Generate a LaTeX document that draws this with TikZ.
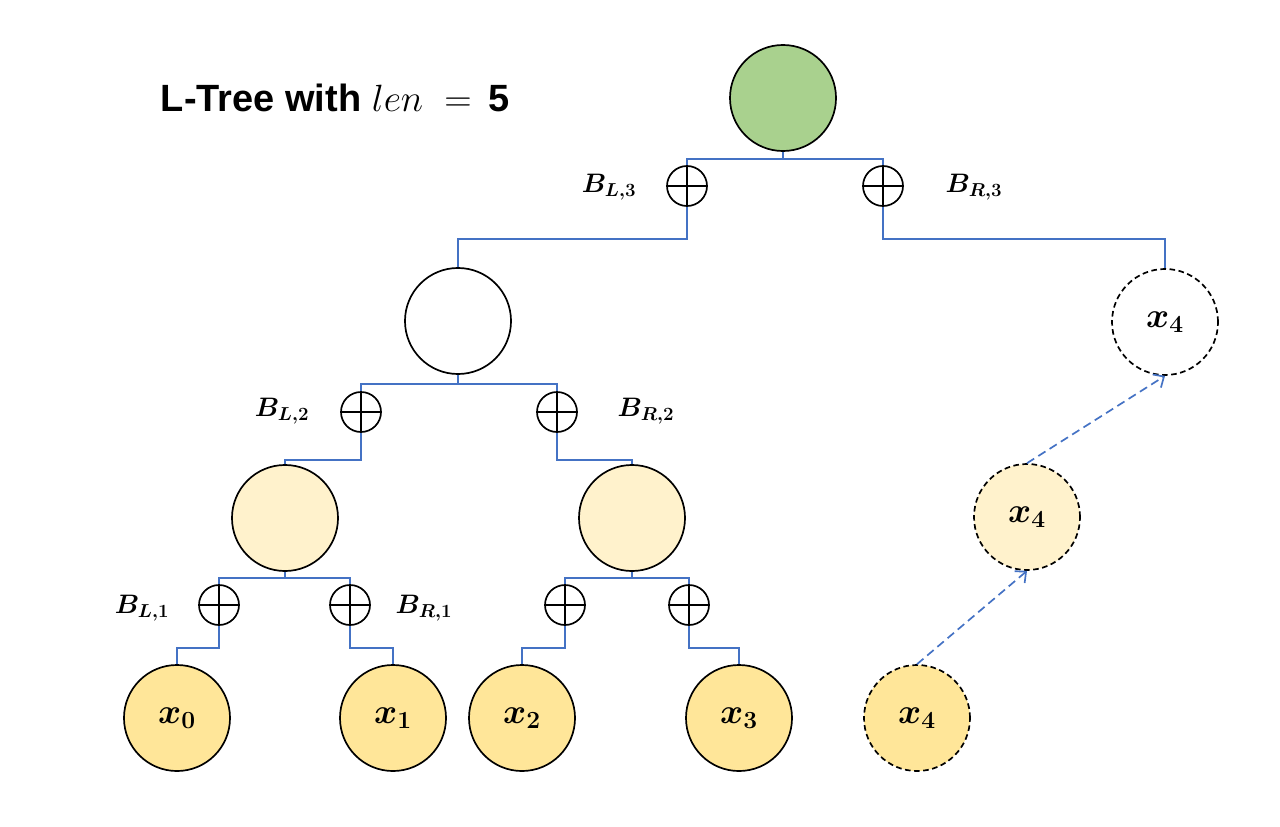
\documentclass[tikz,border=0pt]{standalone}
\usepackage{fix-cm}
\usepackage{amsmath}
\usepackage{fontspec}
\setsansfont{Liberation Sans}
\usetikzlibrary{arrows.meta,calc}
\definecolor{cWire}{HTML}{4472C4}
\definecolor{cRoot}{HTML}{A9D18E}
\definecolor{cPale}{HTML}{FFF2CC}
\definecolor{cLeaf}{HTML}{FFE699}

\begin{document}
\begin{tikzpicture}[x=0.025cm,y=-0.025cm,
      tnode/.style={circle,draw,line width=1.2pt,minimum size=2.65cm,inner sep=0pt,
        font=\boldmath\fontsize{25}{29}\selectfont},
      gnode/.style={tnode,fill=cRoot},
      enode/.style={tnode,fill=white},
      pnode/.style={tnode,fill=cPale},
      lnode/.style={tnode,fill=cLeaf},
      ghost/.style={dash pattern=on 4pt off 2.5pt},
      xorc/.style={circle,draw,line width=1.2pt,minimum size=1cm,inner sep=0pt,fill=white,
        path picture={\draw[line width=1.2pt] (path picture bounding box.north) -- (path picture bounding box.south)
          (path picture bounding box.west) -- (path picture bounding box.east);}},
      wire/.style={draw=cWire,line width=1.5pt},
      hop/.style={draw=cWire,line width=1.2pt,dash pattern=on 6pt off 3.5pt,-{Straight Barb[length=6pt,width=11pt]}},
      blab/.style={font=\boldmath\fontsize{19}{22}\selectfont}]
    \useasboundingbox (0,0) rectangle (1280,827);
    % title
    \node[anchor=west,font=\sffamily\bfseries\fontsize{27}{31}\selectfont] (title) at (156,98)
      {L-Tree with $len\;=\;$\,5};
    % tree nodes
    \node[gnode] (root) at (783,98) {};
    \node[enode] (n2) at (458,321) {};
    \node[pnode] (n1a) at (285,518) {};
    \node[pnode] (n1b) at (632,518) {};
    \node[lnode] (x0) at (177,718) {$x_0$};
    \node[lnode] (x1) at (393,718) {$x_1$};
    \node[lnode] (x2) at (522,718) {$x_2$};
    \node[lnode] (x3) at (739,718) {$x_3$};
    % carried leaf
    \node[lnode,ghost] (x4a) at (917,718) {$x_4$};
    \node[pnode,ghost] (x4b) at (1027,517) {$x_4$};
    \node[enode,ghost] (x4c) at (1165,322) {$x_4$};
    % xor gates
    \node[xorc] (pL3) at (687,186) {};
    \node[xorc] (pR3) at (883,186) {};
    \node[xorc] (pL2) at (361,412) {};
    \node[xorc] (pR2) at (557,412) {};
    \node[xorc] (pL1) at (219,605) {};
    \node[xorc] (pR1) at (350,605) {};
    \node[xorc] (qL1) at (565,605) {};
    \node[xorc] (qR1) at (689,605) {};
    % bias labels
    \node[blab] (bL3) at (609,187) {$B_{L,3}$};
    \node[blab] (bR3) at (974,187) {$B_{R,3}$};
    \node[blab] (bL2) at (282,411) {$B_{L,2}$};
    \node[blab] (bR2) at (646,411) {$B_{R,2}$};
    \node[blab] (bL1) at (142,608) {$B_{L,1}$};
    \node[blab] (bR1) at (424,608) {$B_{R,1}$};
    % wires
    \draw[wire] (root.south) -- ++(0,7) coordinate (j3);
    \draw[wire] (pL3.north) |- (j3) -| (pR3.north);
    \draw[wire] (pL3.south) -- ++(0,32) -| (n2.north);
    \draw[wire] (pR3.south) -- ++(0,32) -| (x4c.north);
    \draw[wire] (n2.south) -- ++(0,9) coordinate (j2);
    \draw[wire] (pL2.north) |- (j2) -| (pR2.north);
    \draw[wire] (pL2.south) -- ++(0,27) -| (n1a.north);
    \draw[wire] (pR2.south) -- ++(0,27) -| (n1b.north);
    \draw[wire] (n1a.south) -- ++(0,6) coordinate (j1a);
    \draw[wire] (pL1.north) |- (j1a) -| (pR1.north);
    \draw[wire] (pL1.south) -- ++(0,22) -| (x0.north);
    \draw[wire] (pR1.south) -- ++(0,22) -| (x1.north);
    \draw[wire] (n1b.south) -- ++(0,6) coordinate (j1b);
    \draw[wire] (qL1.north) |- (j1b) -| (qR1.north);
    \draw[wire] (qL1.south) -- ++(0,22) -| (x2.north);
    \draw[wire] (qR1.south) -- ++(0,22) -| (x3.north);
    % carry arrows
    \draw[hop] (x4a.north) -- (x4b.south);
    \draw[hop] (x4b.north) -- (x4c.south);
\end{tikzpicture}
\end{document}
